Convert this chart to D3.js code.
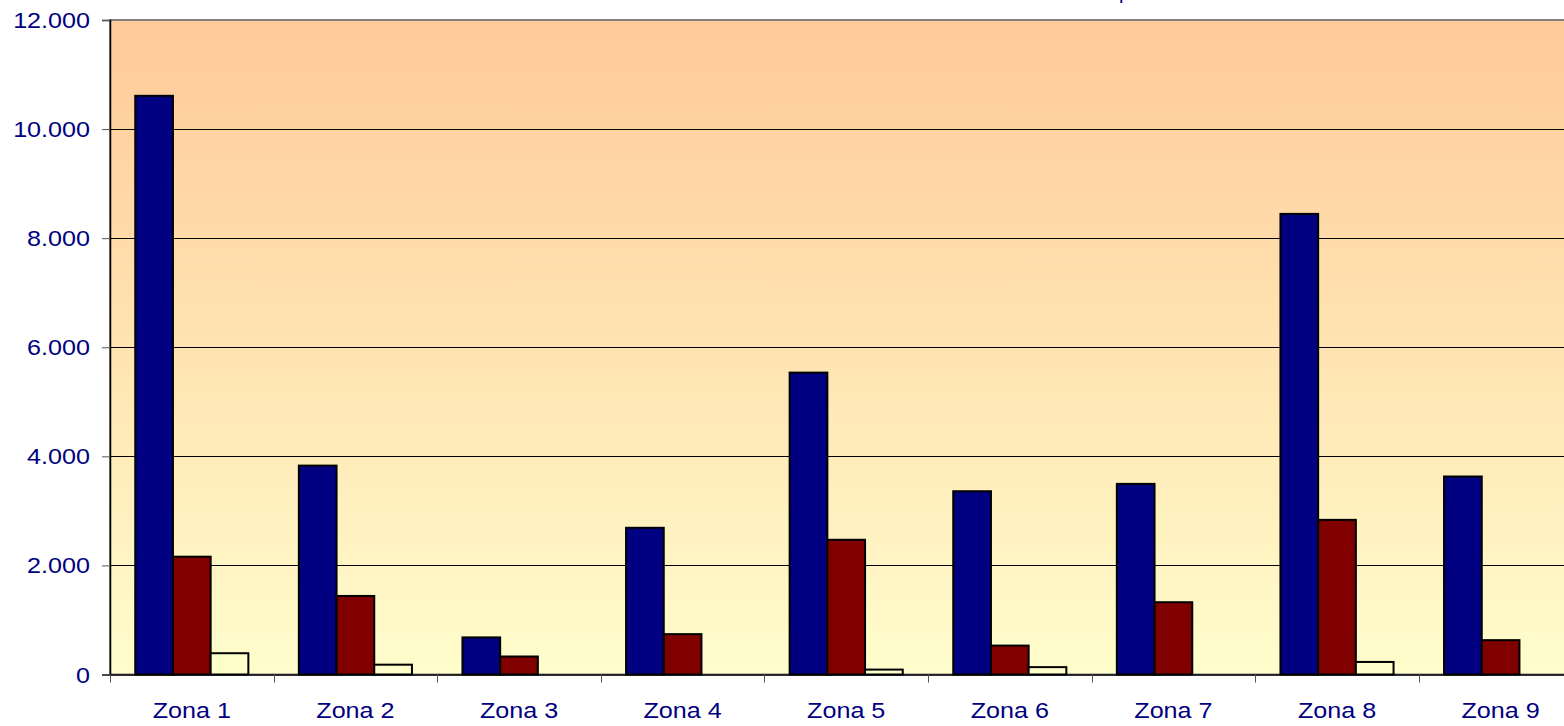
<!DOCTYPE html>
<html>
<head>
<meta charset="utf-8">
<script src="https://d3js.org/d3.v7.min.js"></script>
<style>
  body { margin: 0; background: #fff; }
  text { font-family: Arial, "Liberation Sans", sans-serif; }
</style>
</head>
<body>
<div id="my_dataviz"></div>
<script>
// chart data
const zones = ["Zona 1", "Zona 2", "Zona 3", "Zona 4", "Zona 5", "Zona 6", "Zona 7", "Zona 8", "Zona 9"];
const seriesNames = ["s1", "s2", "s3"];
const values1 = [10610, 3830, 680, 2690, 5535, 3360, 3495, 8445, 3630];
const values2 = [2160, 1440, 330, 740, 2470, 530, 1325, 2835, 630];
const values3 = [390, 180, 0, 0, 90, 135, 0, 230, 0];
const yTicks = [0, 2000, 4000, 6000, 8000, 10000, 12000];

const colors = ["#000080", "#800000", "#FFFFCC"];

const outerWidth = 1564;
const outerHeight = 726;
const margin = {top: 20, left: 110};
const innerHeight = 654.5;
const catWidth = 163.6;
const innerWidth = catWidth * zones.length;
const barWidth = 37.7;
const fontSize = "21.5px";
const stretch = 1.17; // labels are drawn a bit wide

const SVG = d3.select("#my_dataviz").append("svg")
  .attr("width", outerWidth)
  .attr("height", outerHeight);

// background gradient
const grad = SVG.append("defs").append("linearGradient")
  .attr("id", "bg")
  .attr("x1", 0).attr("y1", 0).attr("x2", 0).attr("y2", 1);
grad.append("stop").attr("offset", "0%").attr("stop-color", "#FFCA98");
grad.append("stop").attr("offset", "100%").attr("stop-color", "#FFFDCC");

const svg = SVG.append("g")
  .attr("transform", "translate(" + margin.left + "," + margin.top + ")");

const xScale = d3.scaleBand()
  .domain(zones)
  .range([0, innerWidth])
  .padding(0);
const xInner = d3.scaleBand()
  .domain(seriesNames)
  .range([(catWidth - 3 * barWidth) / 2, (catWidth + 3 * barWidth) / 2])
  .padding(0);
const yScale = d3.scaleLinear()
  .domain([0, 12000])
  .range([innerHeight, 0]);

const locale = d3.formatLocale({decimal: ",", thousands: ".", grouping: [3], currency: ["", ""]});
const fmt = locale.format(",");

svg.append("rect")
  .attr("x", 0).attr("y", 0)
  .attr("width", innerWidth)
  .attr("height", innerHeight)
  .style("fill", "url(#bg)");

// gridlines
svg.append("g")
  .selectAll("line")
  .data(yTicks.filter(function(d) { return d > 0 && d < 12000; }))
  .enter().append("line")
  .attr("x1", 0).attr("x2", innerWidth)
  .attr("y1", function(d) { return Math.round(yScale(d)) + 0.5; })
  .attr("y2", function(d) { return Math.round(yScale(d)) + 0.5; })
  .style("stroke", "#000")
  .style("stroke-width", 1);

// plot border
svg.append("rect")
  .attr("x", 0).attr("y", 0)
  .attr("width", innerWidth)
  .attr("height", innerHeight)
  .style("fill", "none")
  .style("stroke", "#808080")
  .style("stroke-width", 2);

// bars
const rows = zones.map(function(z, i) {
  return {zone: z, vals: [values1[i], values2[i], values3[i]]};
});

const groups = svg.selectAll(".zoneGroup")
  .data(rows).enter().append("g")
  .attr("class", "zoneGroup")
  .attr("transform", function(d) { return "translate(" + xScale(d.zone) + ",0)"; });

groups.selectAll("rect")
  .data(function(d) {
    return d.vals.map(function(v, j) { return {key: seriesNames[j], value: v, idx: j}; })
      .filter(function(b) { return b.value > 0; });
  })
  .enter().append("rect")
  .attr("x", function(d) { return xInner(d.key); })
  .attr("width", xInner.bandwidth())
  .attr("y", function(d) { return yScale(d.value); })
  .attr("height", function(d) { return innerHeight - yScale(d.value); })
  .style("fill", function(d) { return colors[d.idx]; })
  .style("stroke", "#000")
  .style("stroke-width", 2);

// y axis
const yAxis = d3.axisLeft(yScale)
  .tickValues(yTicks)
  .tickSize(8)
  .tickFormat(fmt);
const yAxisGroup = svg.append("g")
  .attr("class", "y axis")
  .call(yAxis);
yAxisGroup.select(".domain").style("stroke", "#000").style("stroke-width", 1.5);
yAxisGroup.selectAll(".tick line").style("stroke", "#555");
yAxisGroup.selectAll(".tick text")
  .attr("x", 0)
  .attr("dy", "0.35em")
  .attr("transform", "translate(-20,0) scale(" + stretch + ",1)")
  .style("font-size", fontSize)
  .style("fill", "#000080");

// x axis
const xAxis = d3.axisBottom(xScale)
  .tickSize(0);
const xAxisGroup = svg.append("g")
  .attr("class", "x axis")
  .attr("transform", "translate(0," + innerHeight + ")")
  .call(xAxis);
xAxisGroup.select(".domain").style("stroke", "#000").style("stroke-width", 1.5);
xAxisGroup.selectAll(".tick text")
  .attr("y", 0)
  .attr("dy", 0)
  .attr("transform", "translate(0,43.5) scale(" + stretch + ",1)")
  .style("font-size", fontSize)
  .style("fill", "#000080");

// category boundary ticks
xAxisGroup.selectAll(".sep")
  .data(zones)
  .enter().append("line")
  .attr("class", "sep")
  .attr("x1", function(d) { return Math.round(xScale(d)) + 0.5; })
  .attr("x2", function(d) { return Math.round(xScale(d)) + 0.5; })
  .attr("y1", 0).attr("y2", 8)
  .style("stroke", "#555");

// title (cut off at top edge)
SVG.append("text")
  .attr("x", 1119)
  .attr("y", -1.5)
  .style("font-size", "20px")
  .style("fill", "#000080")
  .text("p");
</script>
</body>
</html>
